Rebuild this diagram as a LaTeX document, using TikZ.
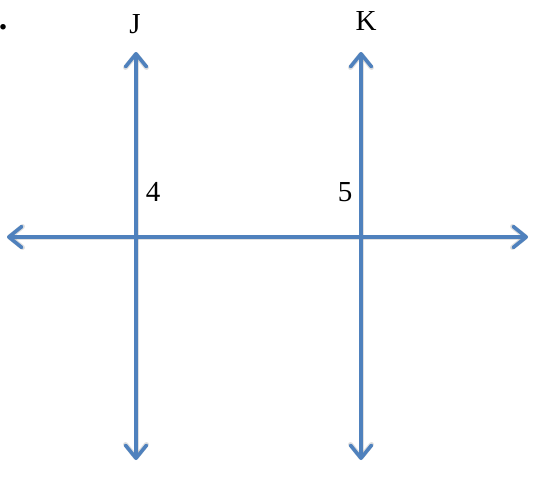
\documentclass[tikz,border=0pt]{standalone}
\usepackage{fontspec}
\setmainfont{Liberation Serif}
\usetikzlibrary{arrows.meta}
\definecolor{lineblue}{RGB}{79,129,189}
\tikzset{
    ray/.style={draw=lineblue, line width=3.6pt, line cap=round, line join=round,
        {Straight Barb[length=13pt,width=21pt,line join=round,round]}-{Straight Barb[length=13pt,width=21pt,line join=round,round]}},
    rayshadow/.style={ray, draw=black, opacity=0.12, line width=5pt},
    raylabel/.style={font=\fontsize{29}{31}\selectfont, inner sep=0pt}
}

\begin{document}
\begin{tikzpicture}[x=1pt,y=-1pt]
    \useasboundingbox (0,0) rectangle (534,480);
    \pgfmathsetmacro{\ymid}{237}
    \pgfmathsetmacro{\ytop}{52}
    \pgfmathsetmacro{\ybot}{460}
    % Define points
    \coordinate (W) at (7,\ymid);
    \coordinate (E) at (528,\ymid);
    \foreach \x/\xx in {J/136,K/361} {
        \coordinate (\x top) at (\xx,\ytop);
        \coordinate (\x bot) at (\xx,\ybot);
    }
    % Draw shadows, then the three lines
    \begin{scope}[shift={(1.5,2)}]
        \draw[rayshadow] (W) -- (E);
        \foreach \x in {J,K} {
            \draw[rayshadow] (\x bot) -- (\x top);
        }
    \end{scope}
    \draw[ray] (W) -- (E);
    \foreach \x in {J,K} {
        \draw[ray] (\x bot) -- (\x top);
    }
    % Labels
    \node[raylabel] (J) at (135,24) {J};
    \node[raylabel] (K) at (366,21) {K};
    \node[raylabel] (a4) at (153,192) {4};
    \node[raylabel] (a5) at (345,192) {5};
    \node[raylabel, font=\fontsize{34}{36}\selectfont\bfseries] (dot) at (3,27) {.};
\end{tikzpicture}
\end{document}
